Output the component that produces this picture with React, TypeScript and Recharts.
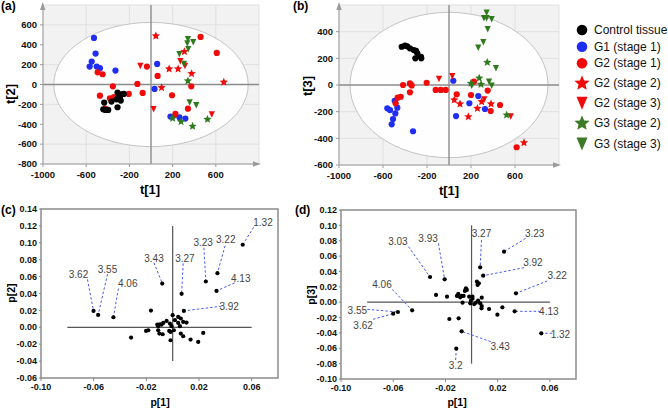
import React from 'react';
import { ScatterChart, Scatter, XAxis, YAxis, CartesianGrid, ReferenceLine, ReferenceArea } from 'recharts';

type P = { x: number; y: number };
type Lab = { label: string; x: number; y: number; lx: number; ly: number; tx: number; ty: number };

const seriesNames = ['Control tissue', 'G1 (stage 1)', 'G2 (stage 1)', 'G2 (stage 2)', 'G2 (stage 3)', 'G3 (stage 2)', 'G3 (stage 3)'];

// ---------- Panel (a): t[1] vs t[2] ----------
const aControl: P[] = [
  { x: -310, y: -81 }, { x: -274, y: -98 }, { x: -289, y: -128 }, { x: -320, y: -149 }, { x: -280, y: -162 },
  { x: -366, y: -172 }, { x: -433, y: -182 }, { x: -421, y: -256 }, { x: -396, y: -256 }, { x: -310, y: -229 },
  { x: -252, y: -95 }, { x: -295, y: -105 }, { x: -442, y: -250 },
];
const aG1s1: P[] = [
  { x: -528, y: 469 }, { x: -513, y: 311 }, { x: -549, y: 231 }, { x: -568, y: 180 }, { x: -503, y: 180 },
  { x: -473, y: 164 }, { x: -329, y: 140 }, { x: 57, y: 207 }, { x: 33, y: -45 }, { x: 180, y: -323 },
  { x: 263, y: -330 }, { x: 318, y: -343 },
];
const aG2s1: P[] = [
  { x: -494, y: 123 }, { x: -448, y: 103 }, { x: -353, y: -18 }, { x: -126, y: 6 }, { x: -77, y: -85 },
  { x: -206, y: -95 }, { x: -473, y: -112 }, { x: -381, y: -139 }, { x: -344, y: -128 }, { x: -424, y: -243 },
  { x: -38, y: 180 }, { x: 61, y: 86 }, { x: 195, y: -108 }, { x: 373, y: -18 }, { x: 459, y: 479 },
  { x: 609, y: 318 }, { x: 342, y: -243 }, { x: 226, y: -296 },
];
const aG2s2: P[] = [
  { x: 45, y: 489 }, { x: 168, y: 157 }, { x: 251, y: 157 }, { x: 376, y: 110 }, { x: 98, y: -31 },
  { x: 309, y: 331 }, { x: 674, y: 23 },
];
const aG2s3: P[] = [
  { x: -99, y: 187 }, { x: 24, y: -249 }, { x: 272, y: 234 }, { x: 315, y: 187 }, { x: 563, y: -303 },
];
const aG3s2: P[] = [
  { x: 342, y: 36 }, { x: 201, y: -340 }, { x: 278, y: -373 }, { x: 523, y: -350 }, { x: 385, y: -420 },
];
const aG3s3: P[] = [
  { x: 342, y: 456 }, { x: 391, y: 425 }, { x: 336, y: 412 }, { x: 345, y: 355 }, { x: 263, y: 305 },
  { x: 305, y: 207 }, { x: 358, y: -182 }, { x: 419, y: -209 },
];

// ---------- Panel (b): t[1] vs t[3] ----------
const bControl: P[] = [
  { x: -430, y: 287 }, { x: -400, y: 295 }, { x: -355, y: 275 }, { x: -300, y: 257 }, { x: -288, y: 238 },
  { x: -255, y: 212 }, { x: -306, y: 200 }, { x: -252, y: 200 }, { x: -380, y: 290 }, { x: -320, y: 262 },
];
const bG1s1: P[] = [
  { x: -494, y: -118 }, { x: -561, y: -175 }, { x: -536, y: -188 }, { x: -470, y: -170 }, { x: -488, y: -213 },
  { x: -509, y: -255 }, { x: -521, y: -295 }, { x: -327, y: -347 }, { x: 39, y: 32 }, { x: 266, y: -83 },
  { x: 185, y: -137 }, { x: 327, y: -180 }, { x: 64, y: -233 },
];
const bG2s1: P[] = [
  { x: -418, y: 0 }, { x: -355, y: 12 }, { x: -339, y: -3 }, { x: -355, y: -55 }, { x: -203, y: 17 },
  { x: -439, y: -88 }, { x: -467, y: -95 }, { x: -485, y: -137 }, { x: -121, y: -37 }, { x: -75, y: -37 },
  { x: -30, y: -37 }, { x: 70, y: -70 }, { x: 200, y: -75 }, { x: 227, y: 25 }, { x: 352, y: -42 },
  { x: 464, y: -150 }, { x: 379, y: -195 }, { x: 615, y: -467 },
];
const bG2s2: P[] = [
  { x: 48, y: -112 }, { x: 100, y: -142 }, { x: 176, y: -238 }, { x: 258, y: -175 }, { x: 297, y: -125 },
  { x: 382, y: -142 }, { x: 682, y: -433 },
];
const bG2s3: P[] = [
  { x: -91, y: 45 }, { x: 30, y: 65 }, { x: 321, y: -108 }, { x: 561, y: -237 },
];
const bG3s2: P[] = [
  { x: 348, y: 170 }, { x: 275, y: 52 }, { x: 200, y: 13 }, { x: 291, y: 5 }, { x: 524, y: -225 },
];
const bG3s3: P[] = [
  { x: 342, y: 542 }, { x: 318, y: 500 }, { x: 342, y: 500 }, { x: 388, y: 493 }, { x: 352, y: 418 },
  { x: 312, y: 320 }, { x: 266, y: 280 }, { x: 427, y: 125 }, { x: 364, y: 25 }, { x: 388, y: -5 }, { x: 206, y: -5 },
];

// ---------- Panel (c): p[1] vs p[2] ----------
const cCluster: P[] = [
  { x: -0.0165, y: 0.0198 }, { x: 0.0, y: 0.0143 }, { x: 0.0042, y: 0.0123 }, { x: 0.0062, y: 0.0104 },
  { x: 0.0017, y: 0.0084 }, { x: 0.008, y: 0.0064 }, { x: 0.0105, y: 0.0056 }, { x: -0.0046, y: 0.0076 },
  { x: -0.0071, y: 0.0052 }, { x: -0.0096, y: 0.0036 }, { x: -0.0117, y: 0.0032 }, { x: -0.011, y: 0.0013 },
  { x: -0.0084, y: 0.0032 }, { x: -0.0021, y: 0.0044 }, { x: -0.0008, y: 0.0013 }, { x: -0.0202, y: -0.0043 },
  { x: -0.0185, y: -0.0035 }, { x: -0.011, y: -0.0035 }, { x: -0.0101, y: -0.0074 }, { x: -0.0076, y: -0.0082 },
  { x: -0.0026, y: -0.0043 }, { x: -0.0016, y: -0.0055 }, { x: 0.0009, y: -0.0035 }, { x: 0.0062, y: -0.0074 },
  { x: 0.008, y: -0.0106 }, { x: 0.0232, y: -0.0066 }, { x: -0.0016, y: -0.0153 }, { x: 0.0136, y: -0.0145 },
  { x: 0.0194, y: -0.0173 }, { x: -0.0316, y: -0.0122 }, { x: 0.0042, y: 0.0052 }, { x: 0.0055, y: 0.0013 },
];
const cLabeled: Lab[] = [
  { label: '3.62', x: -0.0601, y: 0.0194, lx: -0.0647, ly: 0.0566, tx: -0.0715, ty: 0.0628 },
  { label: '3.55', x: -0.0566, y: 0.0147, lx: -0.0495, ly: 0.0629, tx: -0.0495, ty: 0.0688 },
  { label: '4.06', x: -0.045, y: 0.0119, lx: -0.0412, ly: 0.0459, tx: -0.0341, ty: 0.0522 },
  { label: '3.43', x: -0.0079, y: 0.0518, lx: -0.0142, ly: 0.0764, tx: -0.0142, ty: 0.0819 },
  { label: '3.27', x: 0.0068, y: 0.0396, lx: 0.008, ly: 0.0756, tx: 0.0093, ty: 0.0819 },
  { label: '3.23', x: 0.0252, y: 0.0542, lx: 0.0237, ly: 0.0941, tx: 0.0232, ty: 0.1001 },
  { label: '3.22', x: 0.034, y: 0.0641, lx: 0.0398, ly: 0.0965, tx: 0.0403, ty: 0.1036 },
  { label: '1.32', x: 0.0532, y: 0.0977, lx: 0.0615, ly: 0.1183, tx: 0.0686, ty: 0.1246 },
  { label: '4.13', x: 0.0333, y: 0.0431, lx: 0.0471, ly: 0.0526, tx: 0.0517, ty: 0.0574 },
  { label: '3.92', x: 0.0085, y: 0.0194, lx: 0.0371, ly: 0.025, tx: 0.0429, ty: 0.025 },
];

// ---------- Panel (d): p[1] vs p[3] ----------
const dCluster: P[] = [
  { x: 0.0041, y: 0.0267 }, { x: 0.0046, y: 0.0224 }, { x: 0.0056, y: 0.0245 }, { x: -0.0102, y: 0.0107 },
  { x: -0.0112, y: 0.0081 }, { x: -0.0076, y: 0.0081 }, { x: -0.0087, y: 0.0063 }, { x: -0.0061, y: 0.0081 },
  { x: -0.0018, y: 0.0072 }, { x: 0.0007, y: 0.0072 }, { x: 0.0078, y: 0.0059 }, { x: -0.0272, y: 0.0094 },
  { x: -0.0188, y: 0.0072 }, { x: -0.0005, y: 0.002 }, { x: -0.0069, y: -0.0006 }, { x: -0.001, y: -0.0015 },
  { x: 0.002, y: -0.0024 }, { x: 0.0066, y: -0.0015 }, { x: 0.0078, y: -0.005 }, { x: 0.0076, y: -0.008 },
  { x: 0.0134, y: -0.0089 }, { x: 0.0236, y: -0.0067 }, { x: 0.0198, y: -0.0162 }, { x: -0.017, y: -0.0219 },
  { x: -0.0099, y: -0.021 }, { x: -0.0043, y: 0.018 }, { x: -0.0051, y: 0.0146 }, { x: -0.0036, y: 0.0159 },
  { x: 0.005, y: 0.002 }, { x: 0.0033, y: -0.0006 }, { x: 0.0007, y: 0.0046 },
];
const dLabeled: Lab[] = [
  { label: '3.03', x: -0.0318, y: 0.0328, lx: -0.0483, ly: 0.0723, tx: -0.0564, ty: 0.0788 },
  { label: '3.93', x: -0.0206, y: 0.0297, lx: -0.0254, ly: 0.0766, tx: -0.0333, ty: 0.0831 },
  { label: '3.27', x: 0.0066, y: 0.0454, lx: 0.0076, ly: 0.0809, tx: 0.0076, ty: 0.0888 },
  { label: '3.23', x: 0.0249, y: 0.0658, lx: 0.0414, ly: 0.0831, tx: 0.0483, ty: 0.0896 },
  { label: '3.92', x: 0.0089, y: 0.0345, lx: 0.0402, ly: 0.0449, tx: 0.047, ty: 0.0523 },
  { label: '3.22', x: 0.034, y: 0.0115, lx: 0.058, ly: 0.0276, tx: 0.0656, ty: 0.035 },
  { label: '4.13', x: 0.033, y: -0.0119, lx: 0.0529, ly: -0.0119, tx: 0.0592, ty: -0.0119 },
  { label: '1.32', x: 0.0534, y: -0.0405, lx: 0.0618, ly: -0.0405, tx: 0.0681, ty: -0.0423 },
  { label: '3.43', x: -0.0076, y: -0.038, lx: 0.0147, ly: -0.0514, tx: 0.0219, ty: -0.0579 },
  { label: '3.2', x: -0.0117, y: -0.0605, lx: -0.0122, ly: -0.0753, tx: -0.0122, ty: -0.0826 },
  { label: '4.06', x: -0.0455, y: -0.0106, lx: -0.0608, ly: 0.0167, tx: -0.0686, ty: 0.0224 },
  { label: '3.55', x: -0.0564, y: -0.0128, lx: -0.0798, ly: -0.0093, tx: -0.0875, ty: -0.011 },
  { label: '3.62', x: -0.06, y: -0.0149, lx: -0.0755, ly: -0.0223, tx: -0.0831, ty: -0.031 },
];

// tick labels
const aXTicks = [-1000, -600, -200, 200, 600];
const aYTicks = [-800, -600, -400, -200, 0, 200, 400, 600];
const bYTicks = [-600, -400, -200, 0, 200, 400];
const pXTicks = [-0.1, -0.06, -0.02, 0.02, 0.06];
const cYTicks = [-0.06, -0.04, -0.02, 0, 0.02, 0.04, 0.06, 0.08, 0.1, 0.12, 0.14];
const dYTicks = [-0.1, -0.08, -0.06, -0.04, -0.02, 0, 0.02, 0.04, 0.06, 0.08, 0.1, 0.12];

const BLACK = '#000000';
const BLUE = '#1f2ef2';
const RED = '#f00a0a';
const GREEN = '#2f7a1e';
const FONT = '"Liberation Sans", Arial, sans-serif';

const dot = (r: number, color: string) => (p: any) => <circle cx={p.cx} cy={p.cy} r={r} fill={color} />;
const starPath = (cx: number, cy: number, R: number) => {
  const r = R * 0.45;
  let d = '';
  for (let i = 0; i < 10; i++) {
    const ang = -Math.PI / 2 + (i * Math.PI) / 5;
    const rad = i % 2 === 0 ? R : r;
    d += (i === 0 ? 'M' : 'L') + (cx + rad * Math.cos(ang)).toFixed(2) + ',' + (cy + rad * Math.sin(ang)).toFixed(2);
  }
  return d + 'Z';
};
const star = (R: number, color: string) => (p: any) => <path d={starPath(p.cx, p.cy, R)} fill={color} />;
const triPath = (cx: number, cy: number, w: number, h: number) =>
  `M${cx - w / 2},${cy - h / 2}L${cx + w / 2},${cy - h / 2}L${cx},${cy + h / 2}Z`;
const tri = (w: number, h: number, color: string) => (p: any) => <path d={triPath(p.cx, p.cy, w, h)} fill={color} />;

const ellipseShape = (p: any) => (
  <ellipse
    cx={p.x + p.width / 2}
    cy={p.y + p.height / 2}
    rx={Math.abs(p.width) / 2}
    ry={Math.abs(p.height) / 2}
    fill="#ffffff"
    fillOpacity={0.92}
    stroke="#c4c4c4"
    strokeWidth={1}
  />
);

const tickStyleA = { fontSize: 9.5, fontWeight: 'bold' as const, fill: '#111', fontFamily: FONT };
const tickStyleC = { fontSize: 9, fontWeight: 'bold' as const, fill: '#111', fontFamily: FONT };

const labelText = (p: any) => (
  <text x={p.cx} y={p.cy} textAnchor="middle" dominantBaseline="central" fontSize={10} fill="#444" fontFamily={FONT}>
    {p.payload.label}
  </text>
);

function ScorePlot(props: {
  w: number; h: number; ymin: number; ymax: number; yTicks: number[]; rx: number; ry: number;
  xAxisH: number; right: number; controlLast: boolean;
  s: P[][];
}) {
  const { w, h, ymin, ymax, yTicks, rx, ry, xAxisH, right, s, controlLast } = props;
  const control = <Scatter data={s[0]} shape={dot(3.1, BLACK)} isAnimationActive={false} />;
  return (
    <ScatterChart width={w} height={h} margin={{ top: 5, right, bottom: 0, left: 0 }}>
      <CartesianGrid fill="#f2f2f2" stroke="#e0e0e0" strokeDasharray="" />
      <XAxis type="number" dataKey="x" domain={[-1000, 1000]} ticks={aXTicks} allowDataOverflow height={xAxisH}
        tick={tickStyleA} tickSize={3} tickMargin={4} axisLine={{ stroke: '#9a9a9a' }} tickLine={{ stroke: '#9a9a9a' }} />
      <YAxis type="number" dataKey="y" domain={[ymin, ymax]} ticks={yTicks} allowDataOverflow width={43}
        tick={tickStyleA} tickSize={3} tickMargin={3} axisLine={{ stroke: '#9a9a9a' }} tickLine={{ stroke: '#9a9a9a' }} />
      <ReferenceArea x1={-rx} x2={rx} y1={-ry} y2={ry} shape={ellipseShape} />
      <ReferenceLine x={0} stroke="#8c8c8c" strokeWidth={1.4} />
      <ReferenceLine y={0} stroke="#8c8c8c" strokeWidth={1.4} />
      {!controlLast && control}
      <Scatter data={s[1]} shape={dot(3.1, BLUE)} isAnimationActive={false} />
      <Scatter data={s[2]} shape={dot(3.1, RED)} isAnimationActive={false} />
      <Scatter data={s[3]} shape={star(4.4, RED)} isAnimationActive={false} />
      <Scatter data={s[4]} shape={tri(6.2, 6.5, RED)} isAnimationActive={false} />
      <Scatter data={s[5]} shape={star(4.4, GREEN)} isAnimationActive={false} />
      <Scatter data={s[6]} shape={tri(6.2, 6.5, GREEN)} isAnimationActive={false} />
      {controlLast && control}
    </ScatterChart>
  );
}

function LoadingPlot(props: {
  w: number; h: number; top: number; right: number; xAxisH: number; ymin: number; ymax: number; yTicks: number[];
  cluster: P[]; labeled: Lab[]; vLine: [number, number];
}) {
  const { w, h, top, right, xAxisH, ymin, ymax, yTicks, cluster, labeled, vLine } = props;
  const textPts = labeled.map((l) => ({ x: l.tx, y: l.ty, label: l.label }));
  return (
    <ScatterChart width={w} height={h} margin={{ top, right, bottom: 0, left: 0 }}>
      <XAxis type="number" dataKey="x" domain={[-0.1, 0.08]} ticks={pXTicks} allowDataOverflow height={xAxisH}
        tick={tickStyleC} tickFormatter={(v: number) => v.toFixed(2)} tickSize={3} tickMargin={3}
        axisLine={false} tickLine={{ stroke: '#888' }} />
      <YAxis type="number" dataKey="y" domain={[ymin, ymax]} ticks={yTicks} allowDataOverflow width={41}
        tick={tickStyleC} tickFormatter={(v: number) => v.toFixed(2)} tickSize={2} tickMargin={2}
        axisLine={false} tickLine={{ stroke: '#888' }} />
      <ReferenceArea x1={-0.1} x2={0.08} y1={ymin} y2={ymax} fill="none" stroke="#8c8c8c" strokeWidth={1.5} />
      <ReferenceLine segment={[{ x: -0.08, y: 0 }, { x: 0.06, y: 0 }]} stroke="#555" strokeWidth={1.2} />
      <ReferenceLine segment={[{ x: 0, y: vLine[0] }, { x: 0, y: vLine[1] }]} stroke="#555" strokeWidth={1.2} />
      {labeled.map((l, i) => (
        <ReferenceLine key={i} segment={[{ x: l.lx, y: l.ly }, { x: l.x, y: l.y }]} stroke="#4a5cf5" strokeWidth={1} strokeDasharray="2.5 2" />
      ))}
      <Scatter data={cluster} shape={dot(2.1, BLACK)} isAnimationActive={false} />
      <Scatter data={labeled} shape={dot(2.1, BLACK)} isAnimationActive={false} />
      <Scatter data={textPts} shape={labelText} isAnimationActive={false} />
    </ScatterChart>
  );
}

const legendRows = [
  { y: 30, kind: 'c', color: BLACK },
  { y: 46.7, kind: 'c', color: BLUE },
  { y: 63.3, kind: 'c', color: RED },
  { y: 83.3, kind: 's', color: RED },
  { y: 103.3, kind: 't', color: RED },
  { y: 123.3, kind: 's', color: '#3d7a26' },
  { y: 144, kind: 't', color: '#3d7a26' },
];

export default function App() {
  return (
    <div style={{ position: 'absolute', left: 0, top: 0, width: 668, height: 408, background: '#fff', fontFamily: FONT, overflow: 'hidden' }}>
      <div style={{ position: 'absolute', left: 0, top: 0 }}>
        <ScorePlot w={265} h={200} ymin={-800} ymax={800} yTicks={aYTicks} rx={900} ry={625} xAxisH={36} right={6} controlLast
          s={[aControl, aG1s1, aG2s1, aG2s2, aG2s3, aG3s2, aG3s3]} />
      </div>
      <div style={{ position: 'absolute', left: 296, top: 0 }}>
        <ScorePlot w={270} h={200} ymin={-600} ymax={600} yTicks={bYTicks} rx={900} ry={545} xAxisH={35} right={7} controlLast={false}
          s={[bControl, bG1s1, bG2s1, bG2s2, bG2s3, bG3s2, bG3s3]} />
      </div>
      <div style={{ position: 'absolute', left: 0, top: 200 }}>
        <LoadingPlot w={290} h={210} top={9} right={12} xAxisH={32} ymin={-0.06} ymax={0.14} yTicks={cYTicks}
          cluster={cCluster} labeled={cLabeled} vLine={[-0.04, 0.12]} />
      </div>
      <div style={{ position: 'absolute', left: 300, top: 200 }}>
        <LoadingPlot w={290} h={210} top={10} right={14} xAxisH={31} ymin={-0.1} ymax={0.12} yTicks={dYTicks}
          cluster={dCluster} labeled={dLabeled} vLine={[-0.08, 0.1]} />
      </div>
      <svg width={668} height={408} style={{ position: 'absolute', left: 0, top: 0, pointerEvents: 'none' }} fontFamily={FONT}>
        {/* axis arrows */}
        <path d="M40,10 L45.4,10 L42.7,2 Z" fill="#9a9a9a" />
        <path d="M253,161.3 L261,164 L253,166.7 Z" fill="#9a9a9a" />
        <path d="M336.3,10 L341.7,10 L339,2 Z" fill="#9a9a9a" />
        <path d="M553,162.3 L561,165 L553,167.7 Z" fill="#9a9a9a" />
        {/* panel tags */}
        <text x={1} y={10} fontSize={12} fontWeight="bold">(a)</text>
        <text x={293} y={10} fontSize={12} fontWeight="bold">(b)</text>
        <text x={1} y={214} fontSize={12} fontWeight="bold">(c)</text>
        <text x={295} y={214} fontSize={12} fontWeight="bold">(d)</text>
        {/* axis titles */}
        <text x={150} y={194} fontSize={13} fontWeight="bold" textAnchor="middle">t[1]</text>
        <text x={449} y={195} fontSize={13} fontWeight="bold" textAnchor="middle">t[1]</text>
        <text transform="translate(15,94) rotate(-90)" fontSize={13} fontWeight="bold" textAnchor="middle">t[2]</text>
        <text transform="translate(312,86) rotate(-90)" fontSize={13} fontWeight="bold" textAnchor="middle">t[3]</text>
        <text x={160} y={406} fontSize={10.5} fontWeight="bold" textAnchor="middle">p[1]</text>
        <text x={457} y={406} fontSize={10.5} fontWeight="bold" textAnchor="middle">p[1]</text>
        <text transform="translate(15,293) rotate(-90)" fontSize={10.5} fontWeight="bold" textAnchor="middle">p[2]</text>
        <text transform="translate(315,295) rotate(-90)" fontSize={10.5} fontWeight="bold" textAnchor="middle">p[3]</text>
        {/* legend */}
        {legendRows.map((r, i) => (
          <g key={i}>
            {r.kind === 'c' && <circle cx={582} cy={r.y} r={5.3} fill={r.color} />}
            {r.kind === 's' && <path d={starPath(582, r.y, 8)} fill={r.color} />}
            {r.kind === 't' && <path d={triPath(582, r.y, 11, 13)} fill={r.color} />}
            <text x={594} y={r.y} dominantBaseline="central" fontSize={12} fill="#111">{seriesNames[i]}</text>
          </g>
        ))}
      </svg>
    </div>
  );
}
